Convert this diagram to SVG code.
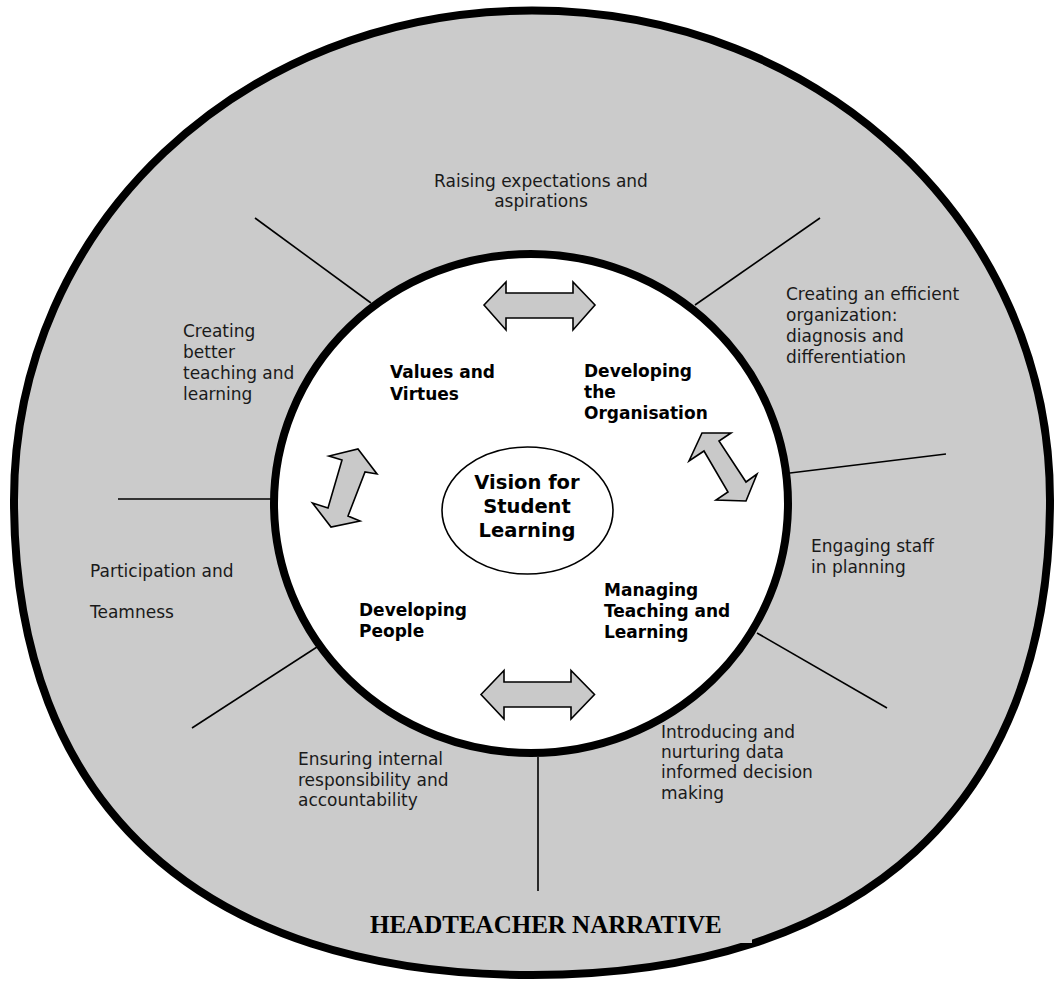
<svg xmlns="http://www.w3.org/2000/svg" width="1056" height="982" viewBox="0 0 1056 982">
<style>
.reg{font-family:"DejaVu Sans","Verdana",sans-serif;font-size:17px;fill:#1a1a1a}
.bold{font-family:"DejaVu Sans","Verdana",sans-serif;font-size:17px;font-weight:bold;fill:#000}
.vis{font-family:"DejaVu Sans","Verdana",sans-serif;font-size:19.5px;font-weight:bold;fill:#000;text-anchor:middle}
.title{font-family:"Liberation Serif","Times New Roman",serif;font-size:25px;font-weight:bold;fill:#000}
.spoke{stroke:#000;stroke-width:1.6;fill:none}
.arrow{fill:#c9c9c9;stroke:#000;stroke-width:1.6;stroke-linejoin:miter}
</style>
<rect width="1056" height="982" fill="#fff"/>
<g id="outer-ring">
<path d="M14,500 C14,225.9 241.9,10.5 532,10.5 C822.1,10.5 1050,225.9 1050,500 C1050,804 863.5,975 532,975 C200.5,975 14,804 14,500 Z" fill="#cbcbcb" stroke="#000" stroke-width="8"/>
<rect x="360" y="905" width="392" height="38" fill="#cbcbcb"/>
</g>
<g id="connectors">
<line class="spoke" x1="255" y1="218" x2="371" y2="303"/>
<line class="spoke" x1="820" y1="218" x2="695" y2="305"/>
<line class="spoke" x1="790" y1="473" x2="946" y2="454"/>
<line class="spoke" x1="118" y1="499" x2="272" y2="499"/>
<line class="spoke" x1="192" y1="728" x2="317" y2="647"/>
<line class="spoke" x1="757" y1="633" x2="887" y2="708"/>
<line class="spoke" x1="538" y1="757" x2="538" y2="891"/>
</g>
<g id="inner-circle">
<ellipse cx="531" cy="503.5" rx="257" ry="249.5" fill="#fff" stroke="#000" stroke-width="8"/>
</g>
<g id="arrows">
<polygon class="arrow" points="484,305 506,282 506,293 573,293 573,282 595,305 573,330 573,318 506,318 506,330"/>
<polygon class="arrow" points="481,694.5 504,670.5 504,682 571,682 571,670.5 594.5,694.5 571,719 571,707 504,707 504,719"/>
<polygon class="arrow" points="358,449 377,474 365,472 348,516 360,521 331,527 312.5,503 328,508 342,460 329,456"/>
<polygon class="arrow" points="702,433 731,433 719,441 746,482 757,474 746,501 716,500 728,492 704,451 689,461"/>
</g>
<g id="vision">
<ellipse cx="527.5" cy="510.5" rx="85.5" ry="63.5" fill="#fff" stroke="#000" stroke-width="1.6"/>
<text class="vis" x="527" y="489">Vision for</text>
<text class="vis" x="527" y="513">Student</text>
<text class="vis" x="527" y="537">Learning</text>
</g>
<g id="values">
<text class="bold" x="390" y="378">Values and</text>
<text class="bold" x="390" y="400">Virtues</text>
</g>
<g id="developing-organisation">
<text class="bold" x="584" y="377">Developing</text>
<text class="bold" x="584" y="398">the</text>
<text class="bold" x="584" y="419">Organisation</text>
</g>
<g id="developing-people">
<text class="bold" x="359" y="616">Developing</text>
<text class="bold" x="359" y="637">People</text>
</g>
<g id="managing">
<text class="bold" x="604" y="596">Managing</text>
<text class="bold" x="604" y="617">Teaching and</text>
<text class="bold" x="604" y="638">Learning</text>
</g>
<g id="raising">
<text class="reg" x="541" y="187" text-anchor="middle">Raising expectations and</text>
<text class="reg" x="541" y="207" text-anchor="middle">aspirations</text>
</g>
<g id="efficient">
<text class="reg" x="786" y="300">Creating an efficient</text>
<text class="reg" x="786" y="321">organization:</text>
<text class="reg" x="786" y="342">diagnosis and</text>
<text class="reg" x="786" y="363">differentiation</text>
</g>
<g id="better">
<text class="reg" x="183" y="337">Creating</text>
<text class="reg" x="183" y="358">better</text>
<text class="reg" x="183" y="379">teaching and</text>
<text class="reg" x="183" y="400">learning</text>
</g>
<g id="participation">
<text class="reg" x="90" y="577">Participation and</text>
<text class="reg" x="90" y="618">Teamness</text>
</g>
<g id="engaging">
<text class="reg" x="811" y="552">Engaging staff</text>
<text class="reg" x="811" y="573">in planning</text>
</g>
<g id="ensuring">
<text class="reg" x="298" y="765">Ensuring internal</text>
<text class="reg" x="298" y="786">responsibility and</text>
<text class="reg" x="298" y="806">accountability</text>
</g>
<g id="introducing">
<text class="reg" x="661" y="738">Introducing and</text>
<text class="reg" x="661" y="758">nurturing data</text>
<text class="reg" x="661" y="778">informed decision</text>
<text class="reg" x="661" y="799">making</text>
</g>
<g id="headteacher">
<text class="title" x="370" y="933">HEADTEACHER NARRATIVE</text>
</g>
</svg>
